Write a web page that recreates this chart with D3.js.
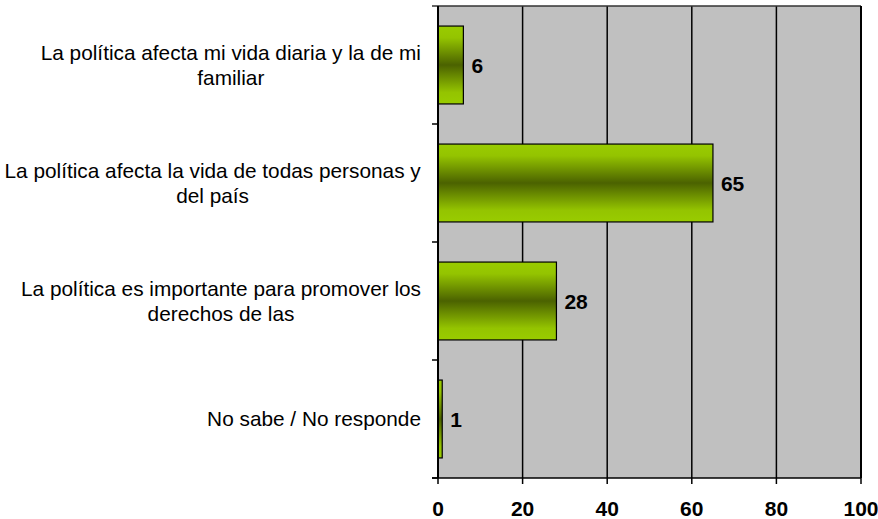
<!DOCTYPE html>
<meta charset="utf-8">
<style>
    body { margin: 0; background: #fff; }
    text { font-family: "Liberation Sans", Arial, sans-serif; }
    .cat { font-size: 20.8px; fill: #000; }
    .val { font-size: 21px; font-weight: bold; fill: #000; }
    .tick { font-size: 21px; font-weight: bold; fill: #000; }
</style>
<script src="https://d3js.org/d3.v7.min.js"></script>
<svg width="878" height="519"></svg>
<script>
    var categories = [
        ["La política afecta mi vida diaria y la de mi", "familiar"],
        ["La política afecta la vida de todas personas y", "del país"],
        ["La política es importante para promover los", "derechos de las"],
        ["No sabe / No responde"]
    ];
    var values = [6, 65, 28, 1];
    var ticks = [0, 20, 40, 60, 80, 100];

    var svg = d3.select("svg");
    // note: "top" is taken by window.top, so use plot* names
    var plotL = 438, plotR = 861, plotT = 6, plotB = 478;

    var x = d3.scaleLinear().domain([0, 100]).range([plotL, plotR]);
    var y = d3.scaleBand().domain(d3.range(categories.length)).range([plotT, plotB]).paddingInner(0.34).paddingOuter(0.17);

    var defs = svg.append("defs");
    var grad = defs.append("linearGradient").attr("id", "g").attr("x1", 0).attr("y1", 0).attr("x2", 0).attr("y2", 1);
    grad.append("stop").attr("offset", "0%").attr("stop-color", "#99cc00");
    grad.append("stop").attr("offset", "15%").attr("stop-color", "#94c400");
    grad.append("stop").attr("offset", "50%").attr("stop-color", "#4b6200");
    grad.append("stop").attr("offset", "85%").attr("stop-color", "#94c400");
    grad.append("stop").attr("offset", "100%").attr("stop-color", "#99cc00");

    // plot background
    svg.append("rect").attr("x", plotL).attr("y", plotT).attr("width", plotR - plotL).attr("height", plotB - plotT)
        .attr("fill", "#c0c0c0");

    // vertical gridlines
    svg.append("g").selectAll("line").data(ticks.slice(1, -1)).enter().append("line")
        .attr("x1", function (d) { return x(d); }).attr("x2", function (d) { return x(d); })
        .attr("y1", plotT).attr("y2", plotB)
        .attr("stroke", "#000").attr("stroke-width", 1.5);

    // border top/right
    svg.append("line").attr("x1", plotL - 6).attr("x2", plotR).attr("y1", plotT).attr("y2", plotT)
        .attr("stroke", "#333").attr("stroke-width", 1.5);
    svg.append("line").attr("x1", plotR).attr("x2", plotR).attr("y1", plotT).attr("y2", plotB)
        .attr("stroke", "#000").attr("stroke-width", 2);

    // bars
    svg.append("g").selectAll("rect").data(values).enter().append("rect")
        .attr("x", x(0))
        .attr("y", function (d, i) { return y(i); })
        .attr("width", function (d) { return x(d) - x(0); })
        .attr("height", y.bandwidth())
        .attr("fill", "url(#g)")
        .attr("stroke", "#000").attr("stroke-width", 1.2);

    // value labels
    svg.append("g").selectAll("text").data(values).enter().append("text")
        .attr("class", "val")
        .attr("x", function (d) { return x(d) + 8; })
        .attr("y", function (d, i) { return y(i) + y.bandwidth() / 2; })
        .attr("dy", "0.36em")
        .text(function (d) { return d; });

    // y axis with category separators
    var step = (plotB - plotT) / categories.length;
    svg.append("line").attr("x1", plotL).attr("x2", plotL).attr("y1", plotT).attr("y2", plotB)
        .attr("stroke", "#000").attr("stroke-width", 2);
    svg.append("g").selectAll("line").data(d3.range(1, categories.length + 1)).enter().append("line")
        .attr("x1", plotL - 6).attr("x2", plotL)
        .attr("y1", function (d) { return plotT + d * step; })
        .attr("y2", function (d) { return plotT + d * step; })
        .attr("stroke", "#000").attr("stroke-width", 1.5);

    // x axis
    svg.append("line").attr("x1", plotL - 6).attr("x2", plotR).attr("y1", plotB).attr("y2", plotB)
        .attr("stroke", "#000").attr("stroke-width", 1.5);
    svg.append("g").selectAll("line").data(ticks).enter().append("line")
        .attr("x1", function (d) { return x(d); }).attr("x2", function (d) { return x(d); })
        .attr("y1", plotB).attr("y2", plotB + 6)
        .attr("stroke", "#000").attr("stroke-width", 1.5);
    svg.append("g").selectAll("text").data(ticks).enter().append("text")
        .attr("class", "tick")
        .attr("x", function (d) { return x(d); })
        .attr("y", 516)
        .attr("text-anchor", "middle")
        .text(function (d) { return d; });

    // category labels: centered block, right edge at 422
    var labelRight = 421, lineH = 25;
    categories.forEach(function (lines, i) {
        var t = svg.append("text").attr("class", "cat").attr("text-anchor", "middle");
        var cy = y(i) + y.bandwidth() / 2;
        var y0 = cy - (lines.length - 1) * lineH / 2;
        lines.forEach(function (s, k) {
            t.append("tspan").attr("x", 0).attr("y", y0 + k * lineH).attr("dy", "0.35em").text(s);
        });
        var w = t.node().getBBox().width;
        t.attr("transform", "translate(" + (labelRight - w / 2) + ",0)");
    });
</script>
